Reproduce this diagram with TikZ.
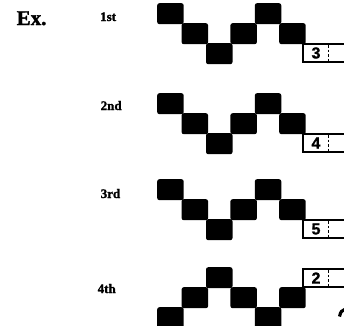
\documentclass[tikz,border=0pt]{standalone}
\usepackage{fontspec}
\setmainfont{Liberation Serif}
\newfontfamily\heavyserif{Liberation Serif}[BoldFeatures={FakeBold=1.6}]
\newfontfamily\numfont{Liberation Sans}[BoldFeatures={FakeBold=1.2}]
\begin{document}
\begin{tikzpicture}[x=1pt,y=-1pt,
  sq/.style={fill=black,draw=none,rounded corners=2.2pt,minimum width=26.5pt,minimum height=21pt,inner sep=0pt,anchor=north west},
  lbl/.style={font=\heavyserif\bfseries\fontsize{13}{13}\selectfont,anchor=base west,inner sep=0pt},
  numtxt/.style={font=\numfont\bfseries\fontsize{16}{16}\selectfont,inner sep=0pt},
  boxline/.style={line width=1.5pt},
  divider/.style={line width=1.3pt,dash pattern=on 2.5pt off 2pt}]
\useasboundingbox (0,0) rectangle (344,325);
\node[font=\heavyserif\bfseries\fontsize{21}{21}\selectfont,anchor=base west,inner sep=0pt] (ex) at (16.5,25) {Ex.};
\node[lbl] (l1) at (100,21) {1st};
\node[lbl] (l2) at (100.5,110) {2nd};
\node[lbl] (l3) at (100.5,198) {3rd};
\node[lbl] (l4) at (97.5,293) {4th};
% rows 1-3
\foreach \r/\T/\num in {1/3/3,2/93/4,3/179/5} {
  \foreach \c/\l in {1/0,2/1,3/2,4/1,5/0,6/1} {
    \node[sq] (r\r c\c) at ({157+24.4*(\c-1)},{\T+20*\l}) {};
  }
  \draw[boxline] (344,\T+41) -- (303,\T+41) -- (303,\T+59) -- (344,\T+59);
  \draw[divider] (328.5,\T+42) -- (328.5,\T+58);
  \node[numtxt] (n\r) at (316,\T+50) {\num};
}
% row 4
\foreach \c/\l in {1/2,2/1,3/0,4/1,5/2,6/1} {
  \node[sq] (r4c\c) at ({157+24.4*(\c-1)},{267+20*\l}) {};
}
\draw[boxline] (344,269) -- (303,269) -- (303,287) -- (344,287);
\draw[divider] (328.5,270) -- (328.5,286);
\node[numtxt] (n4) at (316,278) {2};
% partial mark at bottom right
\fill (338,316) .. controls (339,311) and (341,308.5) .. (344,308) -- (344,311.5) .. controls (342.5,312) and (341.5,314) .. (341,317) -- cycle;
\end{tikzpicture}
\end{document}
